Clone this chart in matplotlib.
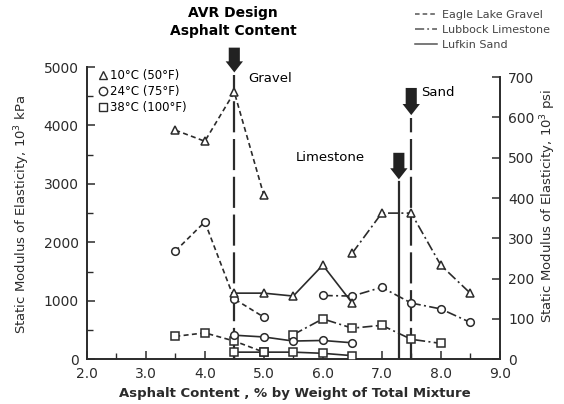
import matplotlib
matplotlib.use('Agg')
import matplotlib.pyplot as plt
from matplotlib.lines import Line2D
from matplotlib.ticker import MultipleLocator

plt.rcParams['font.family'] = ['DejaVu Sans']

# --- data (kPa x 10^3) ---
gravel_x = [3.5, 4.0, 4.5, 5.0]
gravel_10 = [3920, 3730, 4570, 2810]
gravel_24 = [1850, 2350, 1030, 720]
gravel_38 = [390, 450, 310, 120]

lime_x10 = [6.5, 7.0, 7.5, 8.0, 8.5]
lime_10 = [1815, 2500, 2500, 1610, 1130]
lime_x24 = [6.0, 6.5, 7.0, 7.5, 8.0, 8.5]
lime_24 = [1090, 1080, 1230, 960, 860, 630]
lime_x38 = [5.5, 6.0, 6.5, 7.0, 7.5, 8.0]
lime_38 = [420, 690, 530, 580, 340, 270]

sand_x = [4.5, 5.0, 5.5, 6.0, 6.5]
sand_10 = [1130, 1130, 1080, 1610, 960]
sand_24 = [410, 380, 310, 320, 280]
sand_38 = [120, 120, 120, 100, 60]

# design asphalt contents: (x, arrow top, arrow tip) in kPa units
design_gravel = (4.5, 5380, 4860)
design_lime = (7.29, 3580, 3030)
design_sand = (7.5, 4690, 4130)

KPA_PER_PSI = 6.895
INK = '#2b2b2b'
dash_g = (0, (3, 2))
dash_l = (0, (6, 2, 1.2, 2))

fig = plt.figure(figsize=(5.64, 4.04), dpi=100)
ax = fig.add_axes([0.154, 0.111, 0.732, 0.723])

def series(x, y, m, ls):
    ax.plot(x, y, ls=ls, color=INK, lw=1.2, marker=m, ms=5.5,
            mfc='white', mec=INK, mew=1.1, zorder=3)

for y, m in [(gravel_10, '^'), (gravel_24, 'o'), (gravel_38, 's')]:
    series(gravel_x, y, m, dash_g)
series(lime_x10, lime_10, '^', dash_l)
series(lime_x24, lime_24, 'o', dash_l)
series(lime_x38, lime_38, 's', dash_l)
for y, m in [(sand_10, '^'), (sand_24, 'o'), (sand_38, 's')]:
    series(sand_x, y, m, '-')

# design lines + block arrows
for (x, top, tip), ls in [(design_gravel, (0, (14, 3))), (design_lime, '-'),
                          (design_sand, (0, (14, 3)))]:
    ax.plot([x, x], [0, tip], color=INK, lw=1.6, ls=ls, zorder=2)
    ax.annotate('', xy=(x, tip), xytext=(x, top), annotation_clip=False,
                arrowprops=dict(arrowstyle='simple,head_width=1.25,head_length=0.8,tail_width=0.8',
                                color='#222', lw=0))

ax.text(4.73, 4810, 'Gravel', fontsize=9.5, va='center', ha='left')
ax.text(7.66, 4560, 'Sand', fontsize=9.5, va='center', ha='left')
ax.text(6.72, 3460, 'Limestone', fontsize=9.5, va='center', ha='right')

ax.set_xlim(2.0, 9.0)
ax.set_ylim(0, 5000)
ax.xaxis.set_major_locator(MultipleLocator(1.0))
ax.xaxis.set_minor_locator(MultipleLocator(0.5))
ax.yaxis.set_major_locator(MultipleLocator(1000))
ax.yaxis.set_minor_locator(MultipleLocator(500))
ax.set_xticklabels([f'{v:.1f}' for v in ax.get_xticks()])
ax.tick_params(which='both', direction='in', labelsize=10, colors=INK)
ax.tick_params(which='major', length=6, width=1.1, pad=6)
ax.tick_params(which='minor', length=4, width=1.0)
for s in ['top', 'right']:
    ax.spines[s].set_visible(False)
for s in ['left', 'bottom']:
    ax.spines[s].set_linewidth(1.4)
    ax.spines[s].set_color(INK)

ax2 = ax.twinx()
ax2.set_ylim(0, 5000 / KPA_PER_PSI)
ax2.yaxis.set_major_locator(MultipleLocator(100))
ax2.spines['right'].set_bounds(0, 700)
ax2.spines['right'].set_linewidth(1.4)
ax2.spines['right'].set_color(INK)
for s in ['top', 'left', 'bottom']:
    ax2.spines[s].set_visible(False)
ax2.tick_params(direction='in', length=6, width=1.1, pad=6, labelsize=10, colors=INK)

# marker legend (temperatures)
mk = [Line2D([], [], ls='none', marker=m, ms=6, mfc='white', mec=INK) for m in '^os']
ax.legend(mk, ['10°C (50°F)', '24°C (75°F)', '38°C (100°F)'], loc='upper left',
          bbox_to_anchor=(0.02, 1.01), frameon=False, handlelength=0.6,
          handletextpad=0.25, labelspacing=0.25, fontsize=8.5, borderaxespad=0)

# aggregate legend, above plot
lh = [Line2D([], [], color='#555', lw=1.1, ls=dash_g),
      Line2D([], [], color='#555', lw=1.1, ls=dash_l),
      Line2D([], [], color='#555', lw=1.1, ls='-')]
fig.legend(lh, ['Eagle Lake Gravel', 'Lubbock Limestone', 'Lufkin Sand'],
           loc='upper left', bbox_to_anchor=(0.718, 1.0), frameon=False,
           fontsize=8, handlelength=2.0, handletextpad=0.4, labelspacing=0.45,
           labelcolor='#444')

fig.text(0.413, 0.945, 'AVR Design\nAsphalt Content', ha='center', va='center',
         fontsize=10, fontweight='bold', linespacing=1.35)
fig.text(0.523, 0.027, 'Asphalt Content , % by Weight of Total Mixture', ha='center',
         va='center', fontsize=9.5, fontweight='bold', color=INK)
fig.text(0.040, 0.47, 'Static Modulus of Elasticity, $10^3$ kPa', rotation=90,
         ha='center', va='center', fontsize=9.5, color=INK)
fig.text(0.972, 0.49, 'Static Modulus of Elasticity, $10^3$ psi', rotation=90,
         ha='center', va='center', fontsize=9.5, color=INK)

fig.savefig('out.png', dpi=100)
